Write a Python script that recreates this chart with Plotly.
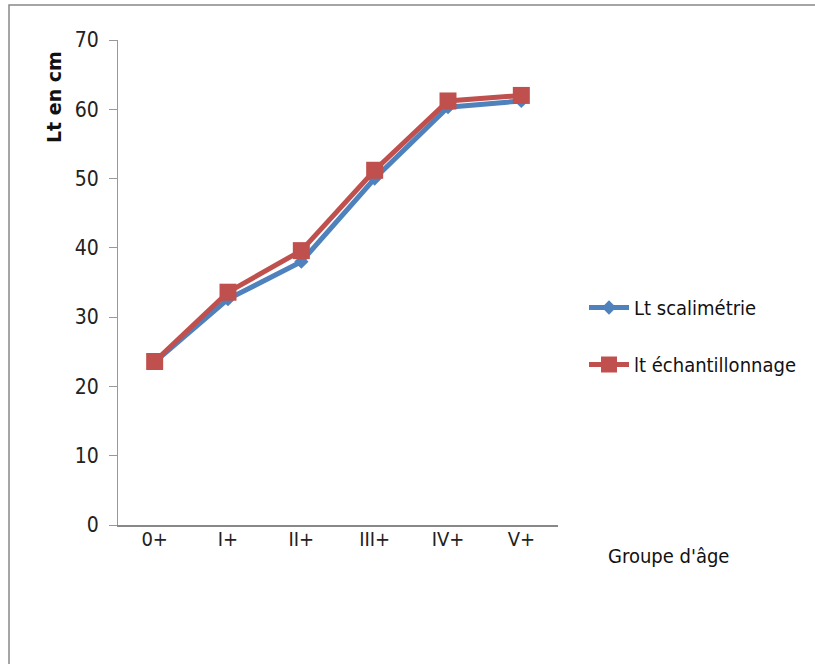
import plotly.graph_objects as go

# Age groups and mean total length (cm) by method
groupes = ["0+", "I+", "II+", "III+", "IV+", "V+"]
lt_scalimetrie = [23.5, 32.6, 38.0, 50.0, 60.3, 61.2]
lt_echantillonnage = [23.6, 33.6, 39.6, 51.2, 61.2, 62.0]

FONT = "DejaVu Sans Condensed, Liberation Sans, Arial, sans-serif"
BLUE = "#4F81BD"
RED = "#C0504D"

fig = go.Figure()
fig.add_trace(go.Scatter(
    x=groupes, y=lt_scalimetrie, name="Lt scalimétrie",
    mode="lines+markers", legendgroup="a",
    line=dict(color=BLUE, width=5),
    marker=dict(symbol="diamond", size=11, color=BLUE),
))
fig.add_trace(go.Scatter(
    x=groupes, y=lt_echantillonnage, name="lt échantillonnage",
    mode="lines+markers", legendgroup="b",
    line=dict(color=RED, width=5),
    marker=dict(symbol="square", size=17, color=RED),
))

L, R, T, B = 118, 257, 40, 139
W, H = 815, 664
pw, ph = W - L - R, H - T - B

def px(x):
    return (x - L) / pw

def py(y):
    return (H - B - y) / ph

fig.update_layout(
    width=W, height=H,
    margin=dict(l=L, r=R, t=T, b=B),
    paper_bgcolor="white", plot_bgcolor="white",
    font=dict(family=FONT, size=20, color="#222"),
    showlegend=True,
    legend=dict(
        x=px(584), y=py(288), xanchor="left", yanchor="top",
        font=dict(family=FONT, size=20, color="#111"),
        tracegroupgap=28, itemwidth=40,
        bgcolor="rgba(0,0,0,0)",
    ),
    xaxis=dict(
        showline=True, linecolor="#888", linewidth=2,
        ticks="", showgrid=False, zeroline=False,
        ticklabelstandoff=-5,
        tickfont=dict(size=20, color="#222"),
        range=[-0.5, 5.5],
    ),
    yaxis=dict(
        range=[0, 70], dtick=10,
        showline=True, linecolor="#999", linewidth=1,
        ticks="outside", ticklen=8, tickcolor="#999",
        ticklabelstandoff=6,
        showgrid=False, zeroline=False,
        tickfont=dict(size=21, color="#222"),
    ),
    annotations=[
        dict(text="<b>Lt en cm</b>", textangle=-90, x=px(54), y=py(97),
             xref="paper", yref="paper", showarrow=False,
             xanchor="center", yanchor="middle",
             font=dict(family="DejaVu Sans, Liberation Sans, Arial, sans-serif",
                       size=19, color="#111")),
        dict(text="Groupe d'âge", x=px(668), y=py(556),
             xref="paper", yref="paper", showarrow=False,
             xanchor="center", yanchor="middle",
             font=dict(family=FONT, size=20, color="#111")),
    ],
    shapes=[
        dict(type="rect", xref="paper", yref="paper",
             x0=px(9), x1=px(830), y0=py(680), y1=py(5),
             line=dict(color="#888", width=1.5)),
    ],
)

fig.write_html("out.html")
